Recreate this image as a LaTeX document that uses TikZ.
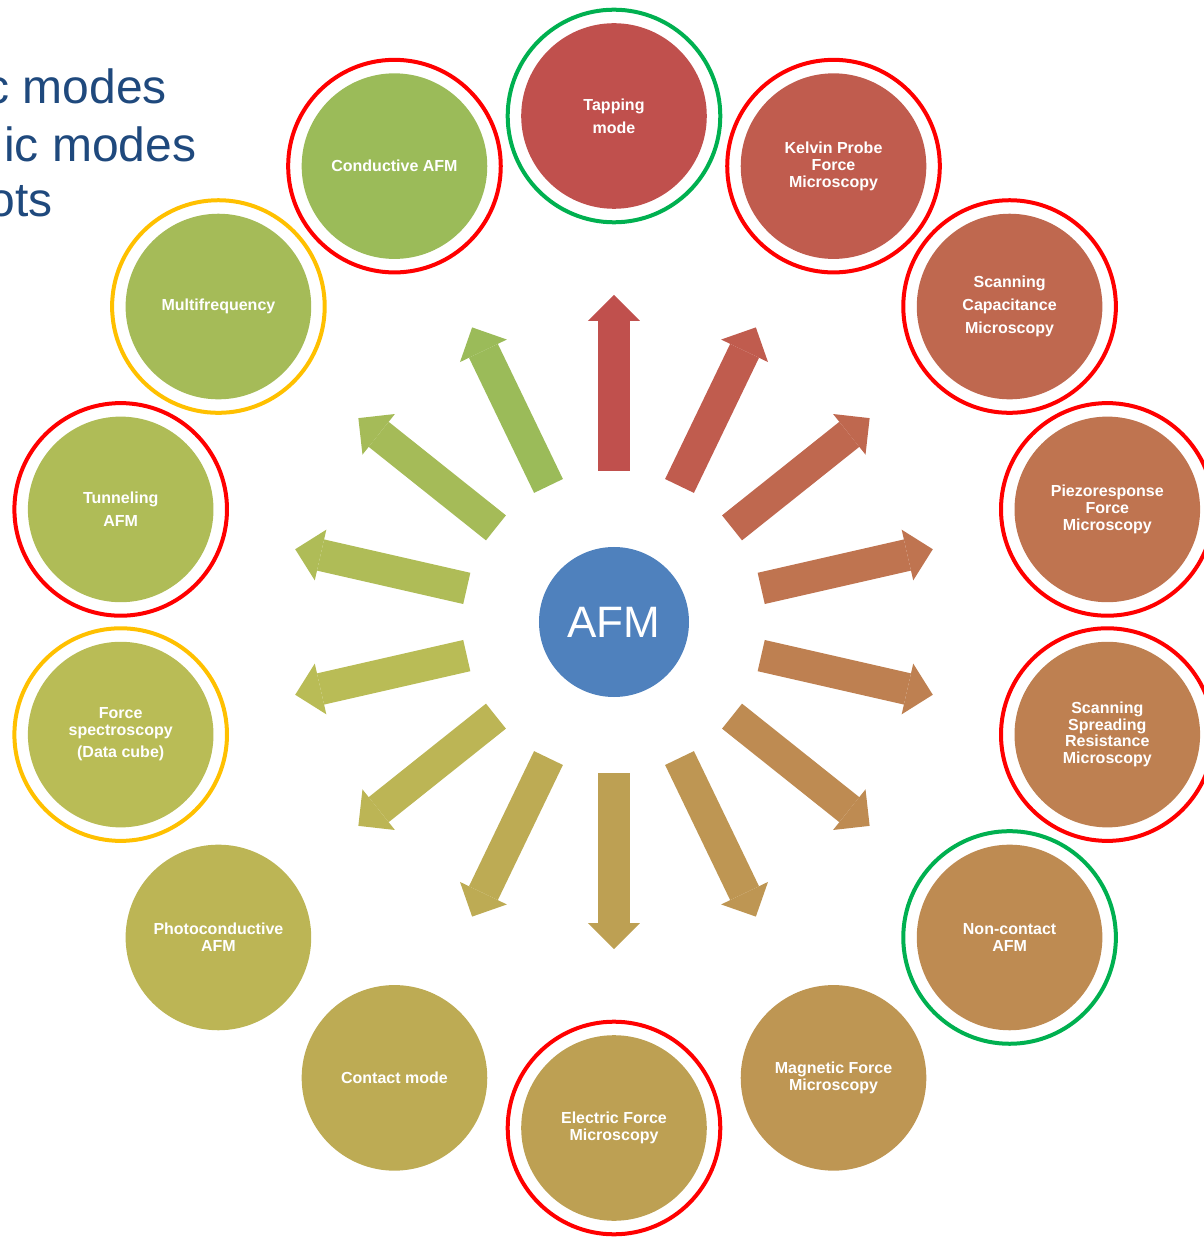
\documentclass[tikz,border=0pt]{standalone}
\usepackage{fontspec}
\setmainfont{Liberation Sans}
\usetikzlibrary{arrows.meta}
\definecolor{cA}{RGB}{192,80,77}
\definecolor{cB}{RGB}{192,92,78}
\definecolor{cC}{RGB}{191,104,79}
\definecolor{cD}{RGB}{191,116,80}
\definecolor{cE}{RGB}{190,128,81}
\definecolor{cF}{RGB}{190,139,82}
\definecolor{cG}{RGB}{190,150,83}
\definecolor{cH}{RGB}{189,160,83}
\definecolor{cI}{RGB}{189,171,84}
\definecolor{cJ}{RGB}{188,181,85}
\definecolor{cK}{RGB}{185,188,86}
\definecolor{cL}{RGB}{175,188,87}
\definecolor{cM}{RGB}{165,187,88}
\definecolor{cN}{RGB}{155,187,89}
\definecolor{afmblue}{RGB}{79,129,189}
\definecolor{titleblue}{RGB}{31,73,125}
\definecolor{ringR}{RGB}{255,0,0}
\definecolor{ringG}{RGB}{0,176,80}
\definecolor{ringY}{RGB}{255,192,0}
\begin{document}
\begin{tikzpicture}[x=1pt,y=1pt,
  bubble/.style={circle, inner sep=0pt, minimum size=185.6pt, text=white, align=center,
    font=\bfseries\fontsize{16}{17}\selectfont},
  widebubble/.style={bubble, font=\bfseries\fontsize{16}{23}\selectfont},
  ringred/.style={draw=ringR, line width=4pt},
  ringgreen/.style={draw=ringG, line width=4pt},
  ringyellow/.style={draw=ringY, line width=4pt},
  spoke/.style={line width=32pt, line cap=butt,
    -{Triangle[length=26pt,width=52pt,line width=0pt]},
    shorten <=151pt, shorten >=179pt},
  legendtext/.style={anchor=base east, inner sep=0pt, text=titleblue,
    font=\fontsize{48}{58}\selectfont}
]
\useasboundingbox (-614,-615) rectangle (590,622);
\clip (-614,-615) rectangle (590,622);

% legend text (cut by the left edge, as in the reference)
\node[legendtext] (l1) at (-447,518) {c modes};
\node[legendtext] (l2) at (-417.5,460.3) {ic modes};
\node[legendtext] (l3) at (-561,405.3) {ots};

% centre
\node[circle, fill=afmblue, minimum size=150pt, inner sep=0pt, text=white,
  font=\fontsize{44}{50}\selectfont] (afm) at (0,0) {AFM};

% outer bubbles
\node[widebubble, fill=cA] (tap) at (90:506) {Tapping\\mode};
\node[bubble, fill=cB] (kel) at (64.2857:506) {Kelvin Probe\\Force\\Microscopy};
\node[widebubble, fill=cC] (scm) at (38.5714:506) {Scanning\\Capacitance\\Microscopy};
\node[bubble, fill=cD] (pfm) at (12.8571:506) {Piezoresponse\\Force\\Microscopy};
\node[bubble, fill=cE, font=\bfseries\fontsize{16}{16.5}\selectfont] (ssrm) at (-12.8571:506) {Scanning\\Spreading\\Resistance\\Microscopy};
\node[bubble, fill=cF] (nc) at (-38.5714:506) {Non-contact\\AFM};
\node[bubble, fill=cG] (mfm) at (-64.2857:506) {Magnetic Force\\Microscopy};
\node[bubble, fill=cH] (efm) at (-90:506) {Electric Force\\Microscopy};
\node[bubble, fill=cI] (cm) at (-115.7143:506) {Contact mode};
\node[bubble, fill=cJ] (pc) at (-141.4286:506) {Photoconductive\\AFM};
\node[bubble, fill=cK] (fs) at (-167.1429:506) {Force\\spectroscopy\\[5pt](Data cube)};
\node[widebubble, fill=cL] (tun) at (167.1429:506) {Tunneling\\AFM};
\node[bubble, fill=cM] (mf) at (141.4286:506) {Multifrequency};
\node[bubble, fill=cN] (cafm) at (115.7143:506) {Conductive AFM};

% rings
\draw[ringgreen] (tap.center) circle (106.3);
\draw[ringred] (kel.center) circle (106.3);
\draw[ringred] (scm.center) circle (106.3);
\draw[ringred] (pfm.center) circle (106.3);
\draw[ringred] (ssrm.center) circle (106.3);
\draw[ringgreen] (nc.center) circle (106.3);
\draw[ringred] (efm.center) circle (106.3);
\draw[ringyellow] (fs.center) circle (106.3);
\draw[ringred] (tun.center) circle (106.3);
\draw[ringyellow] (mf.center) circle (106.3);
\draw[ringred] (cafm.center) circle (106.3);

% spokes
\draw[spoke, color=cA] (afm.center) -- (tap.center);
\draw[spoke, color=cB] (afm.center) -- (kel.center);
\draw[spoke, color=cC] (afm.center) -- (scm.center);
\draw[spoke, color=cD] (afm.center) -- (pfm.center);
\draw[spoke, color=cE] (afm.center) -- (ssrm.center);
\draw[spoke, color=cF] (afm.center) -- (nc.center);
\draw[spoke, color=cG] (afm.center) -- (mfm.center);
\draw[spoke, color=cH] (afm.center) -- (efm.center);
\draw[spoke, color=cI] (afm.center) -- (cm.center);
\draw[spoke, color=cJ] (afm.center) -- (pc.center);
\draw[spoke, color=cK] (afm.center) -- (fs.center);
\draw[spoke, color=cL] (afm.center) -- (tun.center);
\draw[spoke, color=cM] (afm.center) -- (mf.center);
\draw[spoke, color=cN] (afm.center) -- (cafm.center);
\end{tikzpicture}
\end{document}
